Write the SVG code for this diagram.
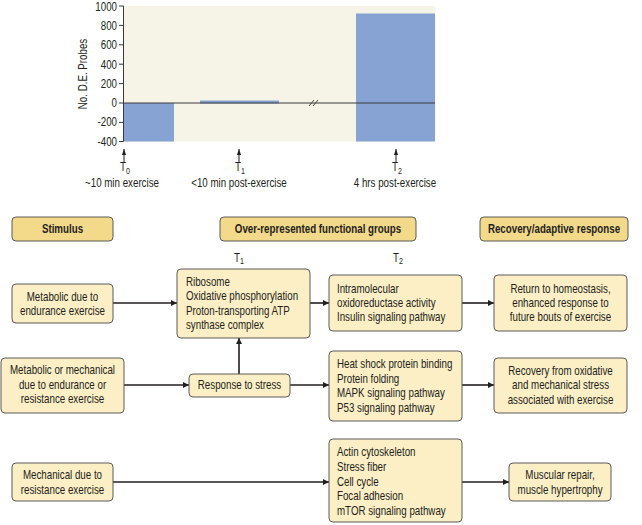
<svg xmlns="http://www.w3.org/2000/svg" width="642" height="525" viewBox="0 0 642 525">
<defs>
<style>
text{font-family:"Liberation Sans",Arial,sans-serif;font-size:13px;fill:#231f20;transform-box:fill-box;transform-origin:0 50%;transform:scaleX(0.75)}
.b{font-weight:bold}
.m{text-anchor:middle;transform-origin:50% 50%}
.r{text-anchor:end;transform-origin:100% 50%}
.hdr{fill:#f3d98a;stroke:#5a5a5a;stroke-width:1}
.nd{fill:#fcefc6;stroke:#5a5a5a;stroke-width:1}
.ln{stroke:#231f20;stroke-width:1.6;fill:none}
.ax{stroke:#3a3a3a;stroke-width:1;fill:none}
.bar{fill:#86a3d3}
.sub{font-size:9.5px}
</style>
<marker id="ah" viewBox="0 0 10 10" refX="10" refY="5" markerWidth="4" markerHeight="4" orient="auto" markerUnits="strokeWidth">
<path d="M0,0 L10,5 L0,10 z" fill="#231f20"/>
</marker>
<marker id="sa" viewBox="0 0 10 10" refX="10" refY="5" markerWidth="6" markerHeight="6" orient="auto" markerUnits="userSpaceOnUse">
<path d="M0,1.5 L10,5 L0,8.5 z" fill="#231f20"/>
</marker>
</defs>
<rect width="642" height="525" fill="#ffffff"/>

<g id="chart">
<rect x="123.5" y="6" width="312" height="135.5" fill="#f6f3e7"/>
<rect class="bar" x="123.5" y="103" width="50.5" height="38.5"/>
<rect class="bar" x="200" y="100.5" width="79" height="3"/>
<rect class="bar" x="356" y="13.5" width="79" height="128"/>
<line class="ax" x1="123.5" y1="103" x2="435" y2="103" stroke="#333c4a"/>
<path d="M309,106 L314,100 M313,106 L318,100" stroke="#333" stroke-width="0.9" fill="none"/>
<path class="ax" d="M123.5,6 V141.5 M119,6 H123.5 M119,25.4 H123.5 M119,44.8 H123.5 M119,64.2 H123.5 M119,83.6 H123.5 M119,103 H123.5 M119,122.4 H123.5 M119,141.5 H123.5"/>
<text class="r" x="117" y="10.5">1000</text>
<text class="r" x="117" y="30">800</text>
<text class="r" x="117" y="49.5">600</text>
<text class="r" x="117" y="69">400</text>
<text class="r" x="117" y="88">200</text>
<text class="r" x="117" y="107.5">0</text>
<text class="r" x="117" y="126.5">-200</text>
<text class="r" x="117" y="146">-400</text>
<g transform="translate(87,74) rotate(-90)"><text class="m" x="0" y="0">No. D.E. Probes</text></g>
<line x1="124" y1="162" x2="124" y2="149" stroke="#231f20" stroke-width="1" marker-end="url(#sa)"/>
<line x1="239" y1="162" x2="239" y2="149" stroke="#231f20" stroke-width="1" marker-end="url(#sa)"/>
<line x1="396" y1="162" x2="396" y2="149" stroke="#231f20" stroke-width="1" marker-end="url(#sa)"/>
<text x="120" y="171.5">T<tspan class="sub" dy="2.5">0</tspan></text>
<text class="m" x="122" y="187.5">~10 min exercise</text>
<text x="235" y="171.5">T<tspan class="sub" dy="2.5">1</tspan></text>
<text class="m" x="239" y="187.5">&lt;10 min post-exercise</text>
<text x="392" y="171.5">T<tspan class="sub" dy="2.5">2</tspan></text>
<text class="m" x="395" y="187.5">4 hrs post-exercise</text>
</g>

<g id="h-stimulus"><rect class="hdr" x="12" y="217" width="101" height="24" rx="4"/><text class="b m" x="62.5" y="233.5">Stimulus</text></g>
<g id="h-groups"><rect class="hdr" x="220" y="217" width="196" height="24" rx="4"/><text class="b m" x="318" y="233.5">Over-represented functional groups</text></g>
<g id="h-response"><rect class="hdr" x="480" y="217" width="148" height="24" rx="4"/><text class="b m" x="554" y="233.5">Recovery/adaptive response</text></g>

<g id="t-labels">
<text x="234" y="262">T<tspan class="sub" dy="2.5">1</tspan></text>
<text x="393" y="262">T<tspan class="sub" dy="2.5">2</tspan></text>
</g>

<g id="connectors">
<line class="ln" x1="113" y1="303" x2="177" y2="303" marker-end="url(#ah)"/>
<line class="ln" x1="310" y1="303" x2="329" y2="303" marker-end="url(#ah)"/>
<line class="ln" x1="462" y1="303" x2="494" y2="303" marker-end="url(#ah)"/>
<line class="ln" x1="124" y1="385" x2="189" y2="385" marker-end="url(#ah)"/>
<line class="ln" x1="239" y1="374" x2="239" y2="338" marker-end="url(#ah)"/>
<line class="ln" x1="290" y1="385" x2="329" y2="385" marker-end="url(#ah)"/>
<line class="ln" x1="462" y1="385" x2="494" y2="385" marker-end="url(#ah)"/>
<line class="ln" x1="113" y1="482" x2="329" y2="482" marker-end="url(#ah)"/>
<line class="ln" x1="462" y1="482" x2="509" y2="482" marker-end="url(#ah)"/>
</g>

<g id="n-metabolic"><rect class="nd" x="12" y="284" width="101" height="39" rx="4"/>
<text class="m" x="62.5" y="301">Metabolic due to</text><text class="m" x="62.5" y="315">endurance exercise</text></g>

<g id="n-ribosome"><rect class="nd" x="177" y="269" width="133" height="69" rx="4"/>
<text x="186" y="286">Ribosome</text><text x="186" y="300.5">Oxidative phosphorylation</text><text x="186" y="315">Proton-transporting ATP</text><text x="186" y="329.5">synthase complex</text></g>

<g id="n-intramolecular"><rect class="nd" x="329" y="275" width="133" height="56" rx="4"/>
<text x="337" y="293.5">Intramolecular</text><text x="337" y="307.5">oxidoreductase activity</text><text x="337" y="321.5">Insulin signaling pathway</text></g>

<g id="n-homeostasis"><rect class="nd" x="494" y="275" width="133" height="56" rx="4"/>
<text class="m" x="560.5" y="293.5">Return to homeostasis,</text><text class="m" x="560.5" y="307.5">enhanced response to</text><text class="m" x="560.5" y="321.5">future bouts of exercise</text></g>

<g id="n-metmech"><rect class="nd" x="1" y="358" width="123" height="55" rx="4"/>
<text class="m" x="62.5" y="374.5">Metabolic or mechanical</text><text class="m" x="62.5" y="389">due to endurance or</text><text class="m" x="62.5" y="403.5">resistance exercise</text></g>

<g id="n-stress"><rect class="nd" x="189" y="374" width="101" height="23" rx="4"/>
<text class="m" x="239.5" y="389.5">Response to stress</text></g>

<g id="n-heatshock"><rect class="nd" x="329" y="351" width="133" height="70" rx="4"/>
<text x="337" y="368.5">Heat shock protein binding</text><text x="337" y="383">Protein folding</text><text x="337" y="397.5">MAPK signaling pathway</text><text x="337" y="412">P53 signaling pathway</text></g>

<g id="n-recovery"><rect class="nd" x="494" y="358" width="133" height="55" rx="4"/>
<text class="m" x="560.5" y="375">Recovery from oxidative</text><text class="m" x="560.5" y="389.5">and mechanical stress</text><text class="m" x="560.5" y="404.5">associated with exercise</text></g>

<g id="n-mechanical"><rect class="nd" x="12" y="463" width="101" height="38" rx="4"/>
<text class="m" x="62.5" y="479.5">Mechanical due to</text><text class="m" x="62.5" y="494">resistance exercise</text></g>

<g id="n-actin"><rect class="nd" x="329" y="439" width="133" height="83" rx="4"/>
<text x="337" y="456">Actin cytoskeleton</text><text x="337" y="471">Stress fiber</text><text x="337" y="486">Cell cycle</text><text x="337" y="500.5">Focal adhesion</text><text x="337" y="515.5">mTOR signaling pathway</text></g>

<g id="n-muscular"><rect class="nd" x="509" y="463" width="102" height="38" rx="4"/>
<text class="m" x="560" y="479.5">Muscular repair,</text><text class="m" x="560" y="494">muscle hypertrophy</text></g>
</svg>
